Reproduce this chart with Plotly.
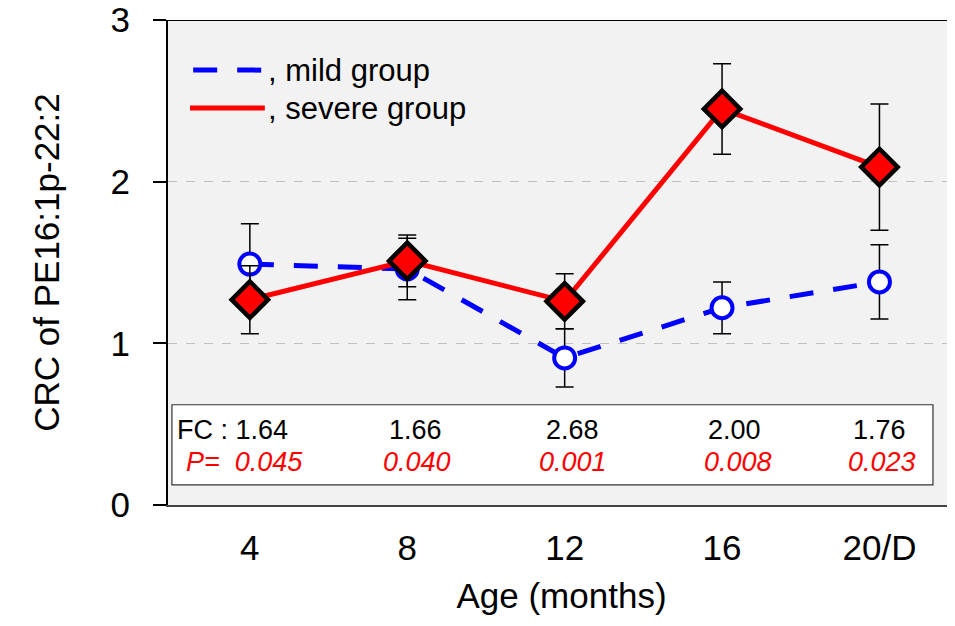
import plotly.graph_objects as go

# age groups and group means with error bars
ages = ["4", "8", "12", "16", "20/D"]
mild_mean = [1.49, 1.46, 0.91, 1.22, 1.38]
mild_err = [0.25, 0.19, 0.18, 0.16, 0.23]
severe_mean = [1.27, 1.51, 1.26, 2.45, 2.09]
severe_err = [0.21, 0.16, 0.17, 0.28, 0.39]

# fold change and p-values printed under the curves
fc_values = ["1.64", "1.66", "2.68", "2.00", "1.76"]
p_values = ["0.045", "0.040", "0.001", "0.008", "0.023"]

FONT = "Liberation Sans, Arial, sans-serif"
xs = list(range(len(ages)))

fig = go.Figure()

fig.add_trace(go.Scatter(
    x=xs, y=mild_mean, mode="lines+markers", name=", mild group",
    line=dict(color="#0000ff", width=5, dash="24px,20px"),
    marker=dict(symbol="circle", size=21, color="white",
                line=dict(color="#0000ff", width=4)),
    error_y=dict(type="data", array=mild_err, color="black", thickness=1.5, width=9),
))
fig.add_trace(go.Scatter(
    x=xs, y=severe_mean, mode="lines+markers", name=", severe group",
    line=dict(color="#ff0000", width=5),
    marker=dict(symbol="diamond", size=28, color="#ff0000",
                line=dict(color="black", width=4.5)),
    error_y=dict(type="data", array=severe_err, color="black", thickness=1.5, width=9),
))

shapes = []
annotations = []

# FC / P box
shapes.append(dict(type="rect", xref="paper", yref="y", x0=0.005, x1=0.972, y0=0.124, y1=0.62,
                   line=dict(color="#333333", width=1.2), fillcolor="white", layer="below"))
fc_shift = [0, 8, 8, 12, 0]
p_shift = [0, 10, 8, 16, 3]
for i, (fc, p) in enumerate(zip(fc_values, p_values)):
    if i == 0:
        annotations.append(dict(x=0.009, xref="paper", y=0.465, yref="y", text="FC : " + fc,
                                showarrow=False, xanchor="left",
                                font=dict(family=FONT, size=27, color="black")))
        annotations.append(dict(x=0.02, xref="paper", y=0.265, yref="y",
                                text="<i>P=</i>  <i>" + p + "</i>",
                                showarrow=False, xanchor="left",
                                font=dict(family=FONT, size=27, color="#ff0000")))
    else:
        annotations.append(dict(x=i, y=0.465, text=fc, showarrow=False, xshift=fc_shift[i],
                                font=dict(family=FONT, size=27, color="black")))
        annotations.append(dict(x=i, y=0.265, text="<i>" + p + "</i>", showarrow=False,
                                xshift=p_shift[i],
                                font=dict(family=FONT, size=27, color="#ff0000")))

# legend drawn by hand
shapes.append(dict(type="line", xref="paper", yref="y", x0=0.032, x1=0.121, y0=2.69, y1=2.69,
                   line=dict(color="#0000ff", width=5, dash="24px,20px")))
shapes.append(dict(type="line", xref="paper", yref="y", x0=0.028, x1=0.123, y0=2.455, y1=2.455,
                   line=dict(color="#ff0000", width=5)))
annotations.append(dict(x=0.124, xref="paper", y=2.69, yref="y", text=", mild group",
                        showarrow=False, xanchor="left",
                        font=dict(family=FONT, size=31, color="black")))
annotations.append(dict(x=0.124, xref="paper", y=2.455, yref="y", text=", severe group",
                        showarrow=False, xanchor="left",
                        font=dict(family=FONT, size=31, color="black")))

# top frame line
shapes.append(dict(type="line", xref="paper", yref="y", x0=-0.016, x1=1, y0=3, y1=3,
                   line=dict(color="black", width=2)))

# page body adds an 8px margin, so the figure is sized 8px smaller
fig.update_layout(
    width=947, height=618,
    margin=dict(l=160, r=0, t=12, b=121),
    paper_bgcolor="white", plot_bgcolor="#f2f2f2",
    showlegend=False,
    font=dict(family=FONT, color="black"),
    shapes=shapes, annotations=annotations,
    xaxis=dict(
        range=[-0.52, 4.48], tickmode="array", tickvals=xs, ticktext=ages,
        showgrid=False, zeroline=False, showline=True, linecolor="#444444", linewidth=2,
        ticks="", tickfont=dict(size=35), ticklabelstandoff=11, automargin=False,
        title=dict(text="Age (months)", font=dict(size=35), standoff=17),
    ),
    yaxis=dict(
        range=[0, 3], tickvals=[0, 1, 2, 3], showline=True, linecolor="black", linewidth=2,
        ticks="outside", ticklen=13, tickcolor="black", tickwidth=1.5,
        tickfont=dict(size=35), ticklabelstandoff=16, ticklabeloverflow="allow",
        automargin=False,
        showgrid=True, gridcolor="#c0c0c0", griddash="dash", gridwidth=1, zeroline=False,
        title=dict(text="CRC of PE16:1p-22:2", font=dict(size=35), standoff=40),
    ),
)

fig.write_html("out.html")
